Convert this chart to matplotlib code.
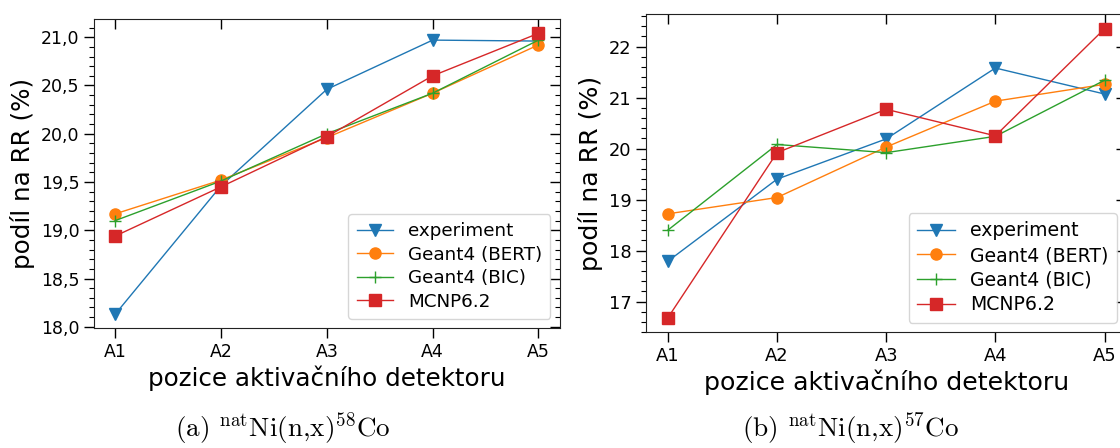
import matplotlib
matplotlib.use("Agg")
import matplotlib.pyplot as plt
from matplotlib.ticker import MultipleLocator, FuncFormatter

# Detector positions
positions = ["A1", "A2", "A3", "A4", "A5"]

# (a) natNi(n,x)58Co, share of reaction rate [%]
co58_experiment = [18.13, 19.46, 20.46, 20.97, 20.96]
co58_bert = [19.17, 19.52, 19.96, 20.42, 20.92]
co58_bic = [19.10, 19.51, 20.00, 20.42, 20.97]
co58_mcnp = [18.94, 19.45, 19.97, 20.60, 21.04]

# (b) natNi(n,x)57Co, share of reaction rate [%]
co57_experiment = [17.79, 19.40, 20.19, 21.58, 21.07]
co57_bert = [18.72, 19.04, 20.03, 20.93, 21.26]
co57_bic = [18.40, 20.08, 19.92, 20.24, 21.34]
co57_mcnp = [16.68, 19.92, 20.77, 20.25, 22.35]

series_labels = ["experiment", "Geant4 (BERT)", "Geant4 (BIC)", "MCNP6.2"]
series_styles = [
    dict(color="#1f77b4", marker="v", markersize=8),
    dict(color="#ff7f0e", marker="o", markersize=8),
    dict(color="#2ca02c", marker="+", markersize=9),
    dict(color="#d62728", marker="s", markersize=8),
]

W, H = 1120, 448
fig = plt.figure(figsize=(W / 100, H / 100), dpi=100)


def px_axes(x0, y0, x1, y1):
    return fig.add_axes([x0 / W, 1 - y1 / H, (x1 - x0) / W, (y1 - y0) / H])


def draw_panel(ax, data, major, minor, fmt, scale):
    for vals, lab, st in zip(data, series_labels, series_styles):
        ax.plot(positions, vals, label=lab, linewidth=1.0, **st)
    ax.yaxis.set_major_locator(MultipleLocator(major))
    ax.yaxis.set_minor_locator(MultipleLocator(minor))
    ax.yaxis.set_major_formatter(FuncFormatter(fmt))
    ax.tick_params(axis="both", which="major", length=7, width=1.0,
                   labelsize=12.5 * scale, direction="out")
    ax.tick_params(axis="y", which="minor", length=3.5, width=0.8,
                   direction="out")
    ax.tick_params(axis="both", which="both", top=True, right=True)
    # ticks on the top and right sides point inwards
    for t in ax.xaxis.get_major_ticks():
        t.tick2line.set_marker(matplotlib.lines.TICKDOWN)
    for t in ax.yaxis.get_major_ticks() + ax.yaxis.get_minor_ticks():
        t.tick2line.set_marker(matplotlib.lines.TICKLEFT)
    ax.set_xlabel("pozice aktivačního detektoru", fontsize=17.7 * scale,
                  labelpad=3)
    ax.set_ylabel("podíl na RR (%)", fontsize=17.7 * scale)
    leg = ax.legend(loc="lower right", fontsize=13.2 * scale,
                    handlelength=2.0, borderpad=0.45, labelspacing=0.3,
                    handletextpad=0.8)
    leg.get_frame().set_edgecolor("#cccccc")
    for s in ax.spines.values():
        s.set_color("#222222")


ax1 = px_axes(94, 19.3, 559.6, 328.3)
draw_panel(ax1, [co58_experiment, co58_bert, co58_bic, co58_mcnp],
           0.5, 0.1, lambda v, p: f"{v:.1f}".replace(".", ","), 1.0)

ax2 = px_axes(646, 14.3, 1126.4, 332.3)
draw_panel(ax2, [co57_experiment, co57_bert, co57_bic, co57_mcnp],
           1.0, 0.2, lambda v, p: f"{v:.0f}", 1.03)

plt.rcParams["mathtext.fontset"] = "cm"
cap_kw = dict(ha="center", va="baseline", fontsize=19.5, family="cmr10")
fig.text(283 / W, 1 - 437 / H, r"(a) $^{\rm nat}$Ni(n,x)$^{58}$Co", **cap_kw)
fig.text(851 / W, 1 - 437 / H, r"(b) $^{\rm nat}$Ni(n,x)$^{57}$Co", **cap_kw)

fig.savefig("out.png", dpi=100)
